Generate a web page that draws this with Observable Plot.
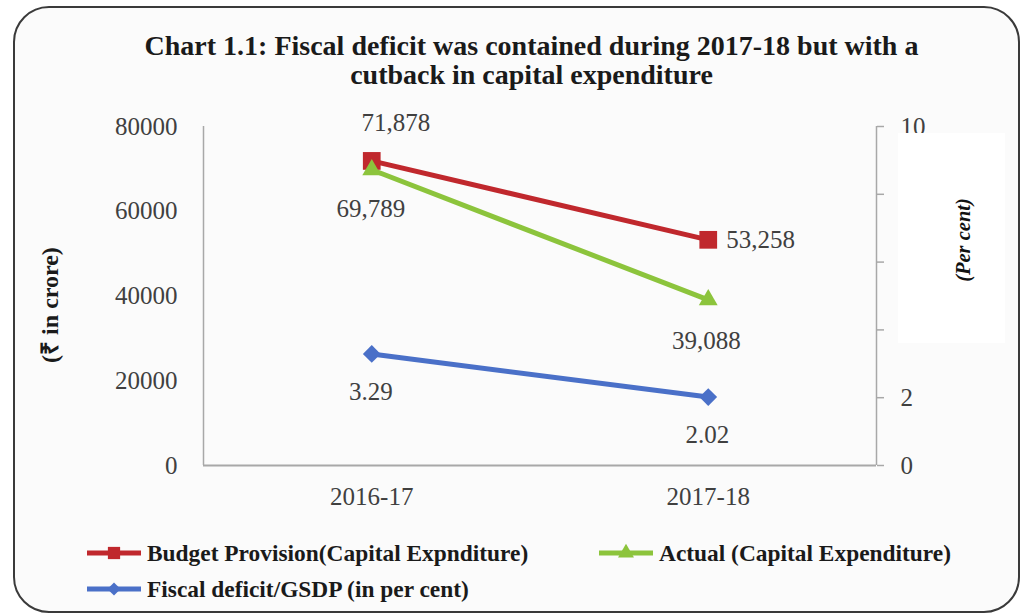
<!DOCTYPE html>
<html><head><meta charset="utf-8">
<script src="https://cdn.jsdelivr.net/npm/d3@7"></script>
<script src="https://cdn.jsdelivr.net/npm/@observablehq/plot@0.6"></script>
<style>
body{margin:0;background:#fff;}
#wrap{position:relative;width:1023px;height:616px;overflow:hidden;font-family:"Liberation Serif","Times New Roman",serif;}
#border{position:absolute;left:13px;top:6px;width:1007px;height:607px;border:2px solid #3a3a3a;border-radius:36px;background:#fbfbfb;box-sizing:border-box;}
#title{position:absolute;left:40px;width:983px;top:31px;text-align:center;font-weight:bold;font-size:28px;line-height:29px;color:#1a1a1a;}
#chart{position:absolute;left:0;top:100px;}
#ylab{position:absolute;left:48px;top:305px;transform:translate(-50%,-50%) rotate(-90deg);white-space:nowrap;font-weight:bold;font-size:24px;color:#1a1a1a;}
#patch{position:absolute;left:898px;top:133px;width:107px;height:210px;background:#fff;}
#ylab2{position:absolute;left:963px;top:240px;transform:translate(-50%,-50%) rotate(-90deg);white-space:nowrap;font-weight:bold;font-style:italic;font-size:20.5px;color:#111;}
.leg{position:absolute;display:flex;align-items:center;font-weight:bold;font-size:23.4px;color:#1a1a1a;white-space:nowrap;}
.leg svg{margin-right:5px;}
</style>
</head><body>
<div id="wrap">
  <div id="border"></div>
  <div id="title">Chart 1.1: Fiscal deficit was contained during 2017-18 but with a<br>cutback in capital expenditure</div>
  <div id="chart"></div>
  <div id="ylab">(₹ in crore)</div>
  <div id="patch"></div>
  <div id="ylab2">(Per cent)</div>
  <div id="legend"></div>
</div>
<script>
const years = ["2016-17", "2017-18"];
const budget = [71878, 53258];
const actual = [69789, 39088];
const fiscal = [3.29, 2.02];
const leftTicks = [0, 20000, 40000, 60000, 80000];
const rightTicks = [0, 2, 4, 6, 8, 10];
const seriesNames = ["Budget Provision(Capital Expnditure)", "Actual (Capital Expenditure)", "Fiscal deficit/GSDP (in per cent)"];
const colors = ["#c0282d", "#8cc43c", "#4a70c8"];

const RATIO = 8000; // right axis 0–10 maps onto left 0–80000
const fmt = d3.format(",");
const idx = years.map((_, i) => i);
const budgetData = idx.map(i => ({i, v: budget[i], label: fmt(budget[i])}));
const actualData = idx.map(i => ({i, v: actual[i], label: fmt(actual[i])}));
const fiscalData = idx.map(i => ({i, v: fiscal[i] * RATIO, label: fiscal[i].toFixed(2)}));

const labelColor = "#404040";
const axisGray = "#a8a8a8";

const chart = Plot.plot({
  width: 1023, height: 420,
  marginTop: 26, marginBottom: 55, marginLeft: 203, marginRight: 147,
  style: {background: "transparent", fontFamily: "'Liberation Serif', 'Times New Roman', serif", fontSize: "25px", color: labelColor, overflow: "visible"},
  x: {type: "linear", domain: [-0.5, 1.5]},
  y: {domain: [0, 80000]},
  marks: [
    Plot.ruleX([-0.5], {stroke: axisGray, strokeWidth: 1.5}),
    Plot.ruleX([1.5], {stroke: axisGray, strokeWidth: 1.5}),
    Plot.ruleY([0], {stroke: axisGray, strokeWidth: 2}),
    Plot.axisY(leftTicks, {anchor: "left", tickSize: 0, tickPadding: 26, tickFormat: d => String(d), label: null}),
    Plot.axisY(rightTicks.map(t => t * RATIO), {anchor: "right", tickSize: 7, tickPadding: 17, stroke: axisGray, strokeWidth: 1.5, tickFormat: d => String(d / RATIO), label: null}),
    Plot.axisX(idx, {tickSize: 0, tickPadding: 22, tickFormat: i => years[i], label: null}),
    Plot.line(budgetData, {x: "i", y: "v", stroke: colors[0], strokeWidth: 5}),
    Plot.line(actualData, {x: "i", y: "v", stroke: colors[1], strokeWidth: 5}),
    Plot.line(fiscalData, {x: "i", y: "v", stroke: colors[2], strokeWidth: 5}),
    Plot.dot(budgetData, {x: "i", y: "v", symbol: "square", fill: colors[0], r: 10}),
    Plot.dot(actualData, {x: "i", y: "v", symbol: "triangle", fill: colors[1], r: 7}),
    Plot.dot(fiscalData, {x: "i", y: "v", symbol: "diamond2", fill: colors[2], r: 8}),
    Plot.text(budgetData.slice(0, 1), {x: "i", y: "v", text: "label", dx: 24, dy: -38, fill: labelColor}),
    Plot.text(budgetData.slice(1), {x: "i", y: "v", text: "label", dx: 18, textAnchor: "start", fill: labelColor}),
    Plot.text(actualData.slice(0, 1), {x: "i", y: "v", text: "label", dx: -1, dy: 39, fill: labelColor}),
    Plot.text(actualData.slice(1), {x: "i", y: "v", text: "label", dx: -2, dy: 41, fill: labelColor}),
    Plot.text(fiscalData, {x: "i", y: "v", text: "label", dx: -1, dy: 38, fill: labelColor})
  ]
});
document.getElementById("chart").appendChild(chart);

// legend
const symbols = [d3.symbolSquare, d3.symbolTriangle, d3.symbolDiamond2];
const legPos = [[86, 553], [598, 553], [86, 589]];
const legend = document.getElementById("legend");
seriesNames.forEach((name, k) => {
  const div = document.createElement("div");
  div.className = "leg";
  div.style.left = legPos[k][0] + "px";
  div.style.top = (legPos[k][1] - 16) + "px";
  div.style.height = "32px";
  const path = d3.symbol(symbols[k], k === 0 ? 150 : 110)();
  div.innerHTML = `<svg width="56" height="20" viewBox="0 0 56 20"><line x1="1" x2="55" y1="10" y2="10" stroke="${colors[k]}" stroke-width="5"/><path d="${path}" transform="translate(28,10)" fill="${colors[k]}"/></svg><span>${name}</span>`;
  legend.appendChild(div);
});
</script>
</body></html>
